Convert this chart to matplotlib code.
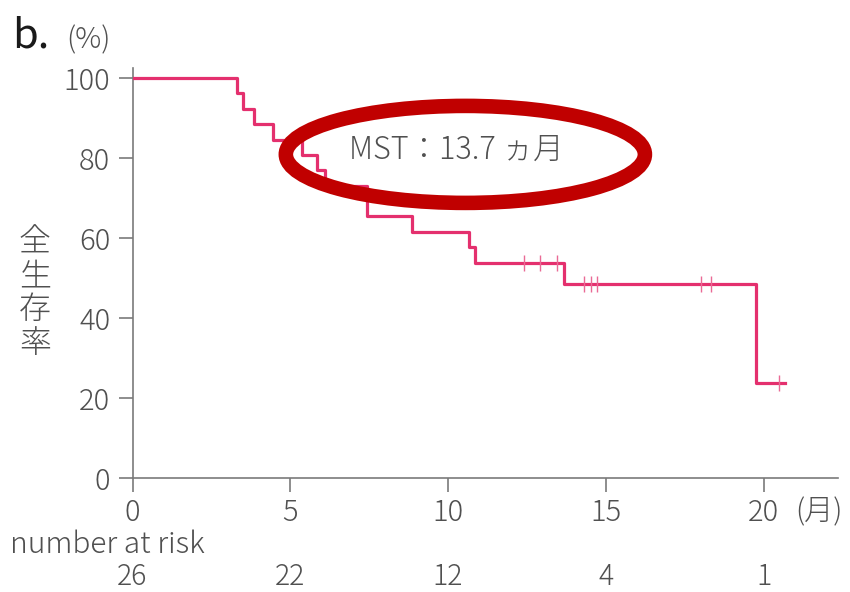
import matplotlib.pyplot as plt
import numpy as np
from matplotlib.patches import Ellipse

plt.rcParams['font.family'] = ['Noto Sans CJK JP', 'DejaVu Sans']
plt.rcParams['font.weight'] = 'light'

# Kaplan-Meier steps (months, %)
times = [0, 3.32, 3.51, 3.84, 4.46, 5.38, 5.85, 6.09, 7.44, 8.87, 10.66, 10.87, 13.69, 19.77, 20.67]
surv = [100, 96.2, 92.3, 88.5, 84.6, 80.8, 76.9, 73.1, 65.4, 61.5, 57.7, 53.8, 48.5, 23.7, 23.7]
censored = [12.40, 12.91, 13.44, 14.30, 14.54, 14.73, 18.03, 18.35, 20.48]

xticks = [0, 5, 10, 15, 20]
yticks = [0, 20, 40, 60, 80, 100]
at_risk = [26, 22, 12, 4, 1]

pink = '#e4306e'
grey = '#505050'
axcol = '#7a7a7a'

fig = plt.figure(figsize=(8.5, 5.92), dpi=100)
ax = fig.add_axes([132.5 / 850, 1 - 478 / 592, (838 - 132.5) / 850, 410 / 592])

ax.step(times, surv, where='post', color=pink, lw=2.3, zorder=3)
idx = np.searchsorted(times, censored, side='right') - 1
ax.plot(censored, np.array(surv)[idx], ls='none', marker='|', ms=12, mew=1.0, color='#ea6a95', zorder=3)

ax.set_xlim(0, 22.36)
ax.set_ylim(0, 102.5)
ax.set_xticks(xticks)
ax.set_yticks(yticks)
ax.tick_params(colors=axcol, labelcolor=grey, labelsize=21, length=10, width=1.2, pad=4)
ax.tick_params(axis='y', pad=6)
for s in ['top', 'right']:
    ax.spines[s].set_visible(False)
for s in ['left', 'bottom']:
    ax.spines[s].set_color(axcol)
    ax.spines[s].set_linewidth(1.2)

# annotation
ax.text(10.25, 82, 'MST：13.7 ヵ月', ha='center', va='center', fontsize=22, color=grey, zorder=5)
ax.add_patch(Ellipse((10.55, 80.9), 11.38, 24.25, fill=False, ec='#c00000', lw=10.5,
                     zorder=6, clip_on=False))

# labels
fig.text(35 / 850, 1 - 293 / 592, '全\n生\n存\n率', ha='center', va='center', fontsize=23,
         color=grey, linespacing=0.98)
fig.text(66 / 850, 1 - 40 / 592, '(%)', ha='left', va='center', fontsize=21, color=grey)
fig.text(12 / 850, 1 - 36 / 592, 'b.', ha='left', va='center', fontsize=30, color='#1a1a1a',
         fontweight='normal')
ax.text(21.0, -8.5, '(月)', ha='left', va='center', fontsize=21, color=grey, clip_on=False)

# number at risk table
fig.text(10 / 850, 1 - 545 / 592, 'number at risk', ha='left', va='center', fontsize=21.5, color=grey)
for x, n in zip(xticks, at_risk):
    ax.text(x, -24.8, str(n), ha='center', va='center', fontsize=20.5, color=grey, clip_on=False)

fig.savefig('out.png', dpi=100)
